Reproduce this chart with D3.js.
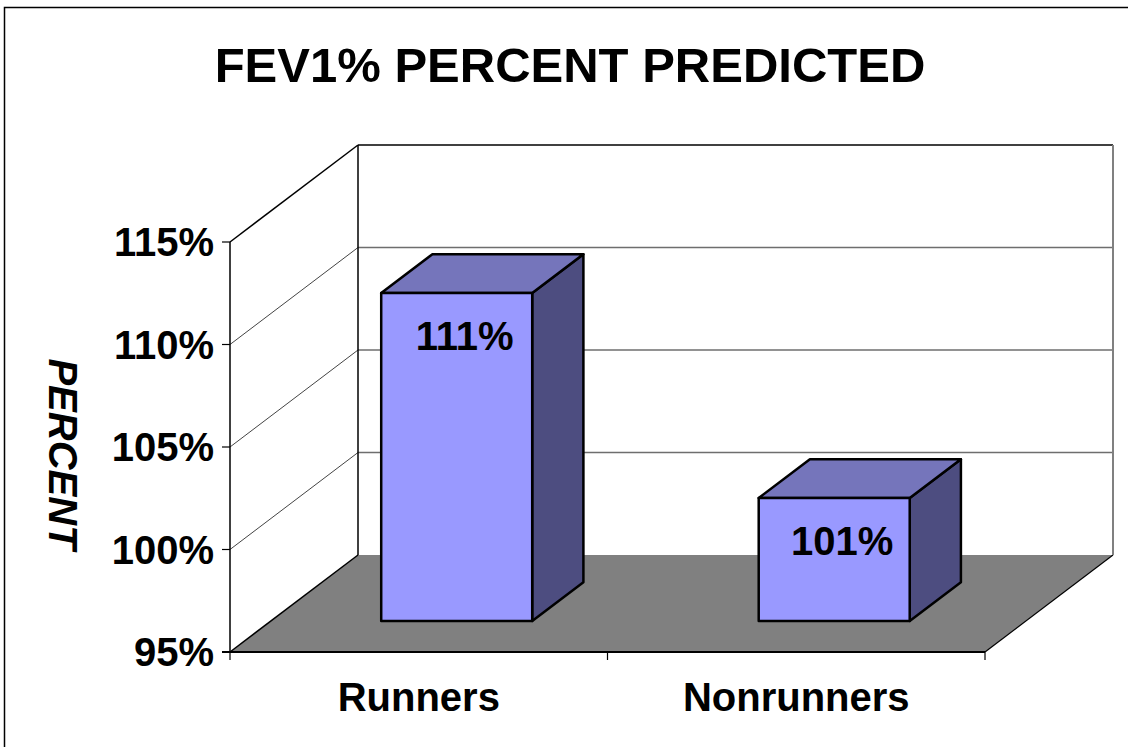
<!DOCTYPE html>
<html>
<head>
<meta charset="utf-8">
<script src="https://cdn.jsdelivr.net/npm/d3@7"></script>
<style>
  html, body { margin: 0; padding: 0; background: #fff; }
  svg { display: block; font-family: Arial, "Liberation Sans", sans-serif; }
</style>
</head>
<body>
<svg id="chart" width="1128" height="747"></svg>
<script>
// ---- data ----
const title = "FEV1% PERCENT PREDICTED";
const yTitle = "PERCENT";
const categories = ["Runners", "Nonrunners"];
const values = [111, 101];
const valueLabels = ["111%", "101%"];
const yTicks = [95, 100, 105, 110, 115];
const yTickLabels = ["95%", "100%", "105%", "110%", "115%"];

(function () {
// ---- layout ----
const svg = d3.select("#chart");
const pLeft = 230, pRight = 985, pBottom = 652, pTop = 242;
const depth = { dx: 128, dy: -97 };      // offset of back wall
const barFront = 0.32, barBack = 0.72;    // bar depth fraction

const x = d3.scaleBand().domain(categories).range([pLeft, pRight])
  .paddingInner(0.6).paddingOuter(0.3);
const y = d3.scaleLinear().domain([95, 115]).range([pBottom, pTop]);

function P(xf, v, d) {
  return [xf + depth.dx * d, y(v) + depth.dy * d];
}
const line = d3.line();

// outer frame
svg.append("rect").attr("x", 4.5).attr("y", 7.5).attr("width", 1130).attr("height", 760)
  .attr("fill", "none").attr("stroke", "#000").attr("stroke-width", 1.5);

// title
svg.append("text").attr("x", 570).attr("y", 82).attr("text-anchor", "middle")
  .attr("font-size", 49).attr("font-weight", "bold").attr("fill", "#000").text(title);

const ymin = 95, ymax = 115;
// floor
svg.append("path")
  .attr("d", line([P(pLeft, ymin, 0), P(pRight, ymin, 0), P(pRight, ymin, 1), P(pLeft, ymin, 1)]) + "Z")
  .attr("fill", "#808080").attr("stroke", "none");
svg.append("path").attr("d", line([P(pRight, ymin, 0), P(pRight, ymin, 1)]))
  .attr("stroke", "#000").attr("stroke-width", 1.2).attr("fill", "none");

// back wall gridlines + left wall diagonals
yTicks.forEach((t) => {
  if (t === ymin) return;
  const isTop = t === ymax;
  svg.append("path").attr("d", line([P(pLeft, t, 1), P(pRight, t, 1)]))
    .attr("stroke", isTop ? "#000" : "#6e6e6e").attr("stroke-width", 1.5).attr("fill", "none");
  svg.append("path").attr("d", line([P(pLeft, t, 0), P(pLeft, t, 1)]))
    .attr("stroke", isTop ? "#000" : "#444").attr("stroke-width", isTop ? 1.5 : 1).attr("fill", "none");
});
// back wall edges
svg.append("path").attr("d", line([P(pLeft, ymin, 1), P(pLeft, ymax, 1)]))
  .attr("stroke", "#000").attr("stroke-width", 1.5).attr("fill", "none");
svg.append("path").attr("d", line([P(pRight, ymin, 1), P(pRight, ymax, 1)]))
  .attr("stroke", "#808080").attr("stroke-width", 2).attr("fill", "none");
// floor/left wall diagonal
svg.append("path").attr("d", line([P(pLeft, ymin, 0), P(pLeft, ymin, 1)]))
  .attr("stroke", "#000").attr("stroke-width", 1.5).attr("fill", "none");

// bars
const frontC = "#9999FF", topC = "#7575BB", sideC = "#4D4D80";
categories.forEach((c, i) => {
  const x0 = x(c) - 3, x1 = x0 + x.bandwidth(), v = values[i];
  const g = svg.append("g");
  const face = (pts, fill) => {
    g.append("path").attr("d", line(pts) + "Z").attr("fill", fill)
      .attr("stroke", "#000").attr("stroke-width", 2.5).attr("stroke-linejoin", "round");
  };
  face([P(x1, ymin, barFront), P(x1, ymin, barBack), P(x1, v, barBack), P(x1, v, barFront)], sideC);
  face([P(x0, v, barFront), P(x1, v, barFront), P(x1, v, barBack), P(x0, v, barBack)], topC);
  face([P(x0, ymin, barFront), P(x1, ymin, barFront), P(x1, v, barFront), P(x0, v, barFront)], frontC);
  const [fx, fy] = P((x0 + x1) / 2, v, barFront);
  g.append("text").attr("x", fx + 8).attr("y", fy + 57).attr("text-anchor", "middle")
    .attr("font-size", 40).attr("font-weight", "bold").attr("fill", "#000").text(valueLabels[i]);
});

// front axes
svg.append("path").attr("d", line([[pLeft, pBottom], [pLeft, pTop]]))
  .attr("stroke", "#000").attr("stroke-width", 1.5).attr("fill", "none");
svg.append("path").attr("d", line([[pLeft - 8, pBottom], [pRight, pBottom]]))
  .attr("stroke", "#000").attr("stroke-width", 2).attr("fill", "none");
yTicks.forEach((t, i) => {
  svg.append("path").attr("d", line([[pLeft - 8, y(t)], [pLeft, y(t)]]))
    .attr("stroke", "#000").attr("stroke-width", 1.2);
  svg.append("text").attr("x", 214).attr("y", y(t)).attr("dy", "0.36em")
    .attr("text-anchor", "end").attr("font-size", 40).attr("font-weight", "bold")
    .attr("fill", "#000").text(yTickLabels[i]);
});
const bounds = [pLeft, pLeft + x.step(), pRight];
bounds.forEach(b => {
  svg.append("path").attr("d", line([[b, pBottom], [b, pBottom + 8]]))
    .attr("stroke", "#000").attr("stroke-width", 1.2);
});
categories.forEach((c) => {
  svg.append("text").attr("x", x(c) + x.bandwidth() / 2).attr("y", 711)
    .attr("text-anchor", "middle").attr("font-size", 40).attr("font-weight", "bold")
    .attr("fill", "#000").text(c);
});

// y axis title
svg.append("text").attr("transform", "translate(49,454) rotate(90)")
  .attr("text-anchor", "middle").attr("font-size", 40).attr("font-weight", "bold")
  .attr("font-style", "italic").attr("fill", "#000").text(yTitle);
})();
</script>
</body>
</html>
